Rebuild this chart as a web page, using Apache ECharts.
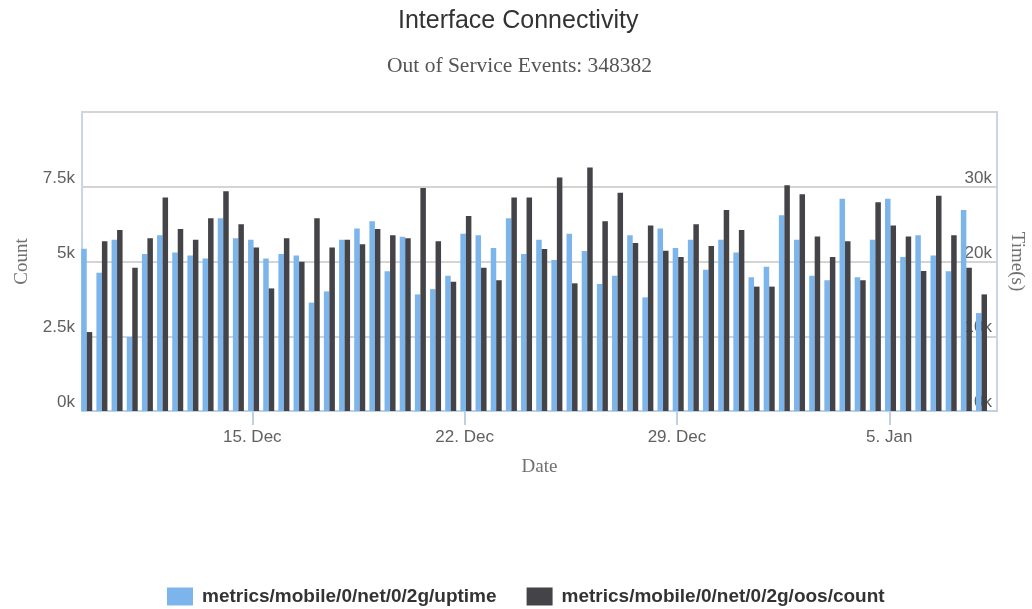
<!DOCTYPE html>
<html>
<head>
<meta charset="utf-8">
<script src="https://cdn.jsdelivr.net/npm/echarts@6/dist/echarts.min.js"></script>
<style>html,body{margin:0;padding:0;background:#fff}#c{width:1032px;height:609px}</style>
</head>
<body>
<div id="c"></div>
<script>
// ---- data ----
const chartTitle = 'Interface Connectivity';
const chartSubtitle = 'Out of Service Events: 348382';
const seriesNames = ['metrics/mobile/0/net/0/2g/uptime', 'metrics/mobile/0/net/0/2g/oos/count'];
const startTime = Date.UTC(2014, 11, 9, 13, 0);   // first sample
const stepHours = 12;                              // one sample every 12 hours
// uptime, seconds (right axis)
const uptime = [21700, 18500, 22900, 9900, 21000, 23500, 21200, 20800, 20400, 25800,
                23100, 22900, 20400, 21000, 20800, 14500, 16000, 22900, 24400, 25400,
                18700, 23300, 15600, 16300, 18100, 23700, 23500, 21800, 25800, 21000,
                22900, 20200, 23700, 21400, 17000, 18100, 23500, 15200, 24400, 21800,
                22900, 18900, 22900, 21200, 17900, 19300, 26200, 22900, 18100, 17500,
                28400, 17900, 22900, 28400, 20600, 23500, 20800, 18700, 26900, 13100];
// out of service count (left axis)
const oosCount = [2640, 5680, 6050, 4790, 5780, 7140, 6090, 5730, 6450, 7350,
                  6250, 5470, 4100, 5780, 4990, 6450, 5470, 5730, 5580, 6090,
                  5880, 5780, 7460, 5680, 4320, 6520, 4790, 4370, 7140, 7140,
                  5420, 7810, 4270, 8140, 6350, 7300, 5620, 6200, 5360, 5150,
                  6250, 5520, 6720, 6050, 4160, 4160, 7550, 7250, 5840, 5150,
                  5680, 4370, 6980, 6200, 5840, 4680, 7200, 5880, 4790, 3900];
const tickDates = [Date.UTC(2014, 11, 15), Date.UTC(2014, 11, 22), Date.UTC(2014, 11, 29), Date.UTC(2015, 0, 5)];
const monthNames = ['Jan','Feb','Mar','Apr','May','Jun','Jul','Aug','Sep','Oct','Nov','Dec'];
const xMin = Date.UTC(2014, 11, 9, 9, 15);
const xMax = Date.UTC(2015, 0, 8, 13, 15);

// ---- chart ----
const times = uptime.map((_, i) => startTime + i * stepHours * 3600 * 1000);
const sans = '"Liberation Sans", Arial, sans-serif';
const serif = '"Liberation Serif", "Times New Roman", serif';
const kFmt = v => (v / 1000) + 'k';

const chart = echarts.init(document.getElementById('c'), null, {renderer: 'canvas'});
chart.setOption({
  animation: false,
  backgroundColor: '#ffffff',
  color: ['#7cb5ec', '#434348'],
  title: [
    {text: chartTitle, left: 393, top: 4,
     textStyle: {fontFamily: sans, fontSize: 25, fontWeight: 'normal', color: '#333333'}},
    {text: chartSubtitle, left: 382, top: 50,
     textStyle: {fontFamily: serif, fontSize: 21.5, fontWeight: 'normal', color: '#555555'}}
  ],
  legend: {
    top: 582, left: 162, itemGap: 30, itemWidth: 26, itemHeight: 18, icon: 'rect',
    textStyle: {fontFamily: sans, fontSize: 19, fontWeight: 'bold', color: '#333333', padding: [0, 0, 0, 4]},
    data: seriesNames
  },
  grid: {left: 82, right: 35, top: 112, bottom: 198, show: true, borderColor: '#c8d6e6', borderWidth: 2,
         outerBoundsMode: 'none', containLabel: false},
  xAxis: {
    type: 'value', min: xMin, max: xMax,
    name: 'Date', nameLocation: 'middle', nameGap: 47,
    nameTextStyle: {fontFamily: serif, fontSize: 19, color: '#707070'},
    axisLine: {show: true, lineStyle: {color: '#c0d0e0', width: 2}},
    axisTick: {show: true, customValues: tickDates, length: 14, lineStyle: {color: '#c0d0e0', width: 2}},
    axisLabel: {customValues: tickDates, margin: 18, fontFamily: sans, fontSize: 17, color: '#606060',
      formatter: v => { const d = new Date(v); return d.getUTCDate() + '. ' + monthNames[d.getUTCMonth()]; }},
    splitLine: {show: false}
  },
  yAxis: [
    {type: 'value', min: 0, max: 10000, interval: 2500, position: 'left',
     name: 'Count', nameLocation: 'middle', nameGap: 48,
     nameTextStyle: {fontFamily: serif, fontSize: 19, color: '#707070'},
     axisLine: {show: false}, axisTick: {show: false},
     axisLabel: {showMaxLabel: false, formatter: kFmt, margin: 7, verticalAlign: 'bottom',
                 fontFamily: sans, fontSize: 17, color: '#606060'},
     splitLine: {show: true, lineStyle: {color: '#d4d4d4', width: 2}}},
    {type: 'value', min: 0, max: 40000, interval: 10000, position: 'right',
     name: 'Time(s)', nameLocation: 'middle', nameGap: 10, nameRotate: -90,
     nameTextStyle: {fontFamily: serif, fontSize: 19, color: '#707070'},
     axisLine: {show: false}, axisTick: {show: false},
     axisLabel: {inside: true, showMaxLabel: false, formatter: kFmt, margin: 5, verticalAlign: 'bottom',
                 fontFamily: sans, fontSize: 17, color: '#606060'},
     splitLine: {show: false}}
  ],
  series: [
    {name: seriesNames[0], type: 'bar', yAxisIndex: 1, barWidth: 5.5, barGap: '0%',
     data: times.map((t, i) => [t, uptime[i]])},
    {name: seriesNames[1], type: 'bar', yAxisIndex: 0, barWidth: 5.5, barGap: '0%',
     data: times.map((t, i) => [t, oosCount[i]])}
  ]
});
</script>
</body>
</html>
